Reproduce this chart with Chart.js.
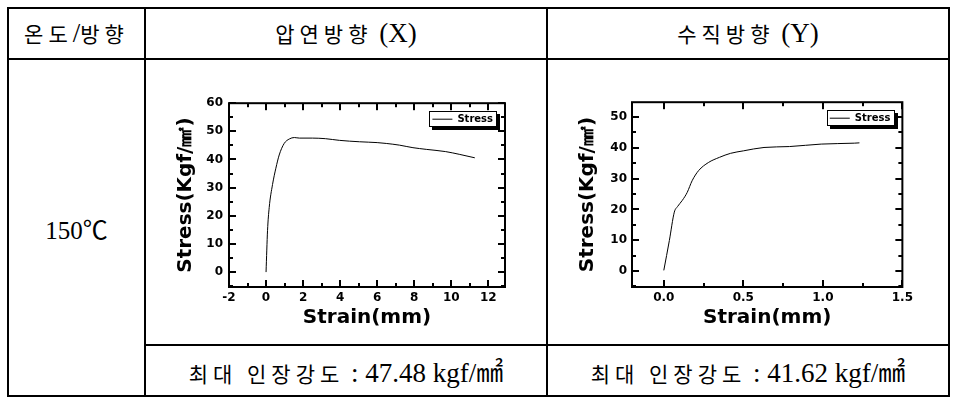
<!DOCTYPE html>
<html>
<head>
<meta charset="utf-8">
<script src="https://cdn.jsdelivr.net/npm/chart.js@4.4.0/dist/chart.umd.min.js"></script>
<style>
    html, body { margin: 0; padding: 0; background: #fff; }
    #page { position: relative; width: 978px; height: 401px; overflow: hidden;
            font-family: 'Liberation Serif', 'Noto Sans CJK KR', serif; color: #000; }
    .h { position: absolute; background: #000; height: 2px; }
    .v { position: absolute; background: #000; width: 2px; }
    .cell { position: absolute; display: flex; align-items: center; justify-content: center;
            font-size: 27px; white-space: pre; }
    .k { font-family: 'Noto Sans CJK KR', sans-serif; font-size: 21px; letter-spacing: 5px; }
    .plot { position: absolute; width: 355px; height: 245px; }
</style>
</head>
<body>
<div id="page">
    <div class="h" style="left:7px; top:7px;   width:943px;"></div>
    <div class="h" style="left:7px; top:58px;  width:943px;"></div>
    <div class="h" style="left:145px; top:344px; width:805px;"></div>
    <div class="h" style="left:7px; top:395px; width:943px;"></div>
    <div class="v" style="left:7px;   top:7px; height:390px;"></div>
    <div class="v" style="left:144px; top:7px; height:390px;"></div>
    <div class="v" style="left:546px; top:7px; height:390px;"></div>
    <div class="v" style="left:948px; top:7px; height:390px;"></div>

    <div class="cell" style="left:9px;   top:9px; width:135px; height:49px;"><span><span class="k">온도</span>/<span class="k">방향</span></span></div>
    <div class="cell" style="left:146px; top:9px; width:400px; height:49px;"><span><span class="k">압연방향</span> (X)</span></div>
    <div class="cell" style="left:548px; top:9px; width:400px; height:49px;"><span><span class="k">수직방향</span> (Y)</span></div>
    <div class="cell" style="left:9px;   top:60px; width:135px; height:335px; font-size:25px;"><span>150℃</span></div>
    <div class="cell" style="left:146px; top:346px; width:400px; height:49px;"><span><span class="k">최대 인장강도</span> : 47.48 kgf/㎟</span></div>
    <div class="cell" style="left:548px; top:346px; width:400px; height:49px;"><span><span class="k">최대 인장강도</span> : 41.62 kgf/㎟</span></div>

    <div class="plot" style="left:160px; top:90px;"><canvas id="chartX"></canvas></div>
    <div class="plot" style="left:562px; top:90px;"><canvas id="chartY"></canvas></div>
</div>

<script>
// ── 압연방향 (X)
const strainX = [0, 0.08, 0.17, 0.35, 0.53, 0.71, 0.98, 1.26, 1.53, 1.8, 2.5, 3.2, 3.96, 5.04, 6.0, 6.49, 7.2, 7.93, 8.65, 9.7, 10.46, 11.27];
const stressX = [0, 14.7, 22.9, 31.1, 36.9, 41.6, 45.7, 47.3, 47.8, 47.6, 47.6, 47.4, 46.8, 46.3, 46.0, 45.7, 45.1, 44.2, 43.6, 42.8, 41.8, 40.6];
const xTicksX = [-2, 0, 2, 4, 6, 8, 10, 12];
const yTicksX = [0, 10, 20, 30, 40, 50, 60];

// ── 수직방향 (Y)
const strainY = [0, 0.035, 0.066, 0.086, 0.116, 0.147, 0.178, 0.219, 0.28, 0.35, 0.42, 0.5, 0.63, 0.79, 0.99, 1.198, 1.23];
const stressY = [0.2, 9.9, 19.1, 20.9, 22.9, 25.5, 29.3, 32.6, 35.2, 36.9, 38.2, 39.0, 40.1, 40.4, 41.2, 41.5, 41.6];
const xTicksY = [0, 0.5, 1.0, 1.5];
const yTicksY = [0, 10, 20, 30, 40, 50];

const SERIES_LABEL = 'Stress';
const X_TITLE = 'Strain(mm)';
const Y_TITLE = 'Stress(Kgf/㎟)';

const TICK_FONT  = { family: 'DejaVu Sans', size: 12, weight: 'bold' };
const TITLE_FONT = { family: 'DejaVu Sans', size: 20, weight: 'bold' };
const LEGEND_PAD = 10;

// Рамка, внутренние засечки и рамка легенды
const framePlugin = {
    id: 'frame',
    afterLayout(chart) {
        // legend → top right corner of the plot area
        const lg = chart.legend;
        const hb = lg.legendHitBoxes[0];
        if (!hb) return;
        const a = chart.chartArea;
        const dx = (a.right - 12 - hb.width) - (lg.left + LEGEND_PAD);
        const dy = (a.top + 11) - (lg.top + LEGEND_PAD);
        lg.left += dx; lg.right += dx;
        lg.top += dy;  lg.bottom += dy;
    },
    afterDraw(chart) {
        const { ctx, chartArea: a, scales } = chart;
        ctx.save();
        ctx.strokeStyle = '#000';
        ctx.fillStyle = '#000';
        ctx.lineWidth = 2;
        ctx.strokeRect(a.left, a.top, a.right - a.left, a.bottom - a.top);

        // большие засечки на делениях, малые — посередине
        const marks = (scale, horiz) => {
            const vals = scale.ticks.map(t => t.value);
            if (vals.length < 2) return;
            const step = vals[1] - vals[0];
            const all = vals.map(v => [v, 7]);
            for (let i = 0; i <= vals.length; i++) {
                all.push([vals[0] + (i - 0.5) * step, 4]);
            }
            all.forEach(([v, len]) => {
                if (v < scale.min || v > scale.max) return;
                const p = Math.round(scale.getPixelForValue(v)) - 1;
                if (horiz) {
                    ctx.fillRect(p, a.bottom - len, 2, len);
                    ctx.fillRect(p, a.top, 2, len);
                } else {
                    ctx.fillRect(a.left, p, len, 2);
                    ctx.fillRect(a.right - len, p, len, 2);
                }
            });
        };
        marks(scales.x, true);
        marks(scales.y, false);

        const hb = chart.legend.legendHitBoxes[0];
        if (hb) {
            const x = Math.round(hb.left) - 3, y = Math.round(hb.top) - 3;
            const w = Math.round(hb.width) + 6, h = Math.round(hb.height) + 5;
            ctx.lineWidth = 1;
            ctx.strokeRect(x + 0.5, y + 0.5, w, h);
            ctx.fillRect(x + 3, y + h + 1, w, 3);
            ctx.fillRect(x + w + 1, y + 3, 3, h + 1);
        }
        ctx.restore();
    }
};

function buildChart(id, xs, ys, xTicks, yTicks, range, dims) {
    const ctx = document.getElementById(id).getContext('2d');
    return new Chart(ctx, {
        type: 'line',
        data: {
            datasets: [{
                label:           SERIES_LABEL,
                data:            xs.map((x, i) => ({ x, y: ys[i] })),
                borderColor:     '#000',
                backgroundColor: '#000',
                borderWidth:     1,
                pointRadius:     0,
                pointStyle:      'line',
                cubicInterpolationMode: 'monotone'
            }]
        },
        options: {
            responsive:          true,
            maintainAspectRatio: false,
            animation:           false,
            layout: { padding: { top: dims.top, right: dims.right, left: 0, bottom: 0 } },
            plugins: {
                tooltip: { enabled: false },
                legend: {
                    position: 'chartArea',
                    align:    'start',
                    labels: {
                        color:           '#000',
                        font:            { family: 'DejaVu Sans', size: 10, weight: 'bold' },
                        usePointStyle:   true,
                        pointStyleWidth: 20,
                        boxHeight:       10,
                        padding:         LEGEND_PAD
                    }
                }
            },
            scales: {
                x: {
                    type: 'linear',
                    min:  range.xMin,
                    max:  range.xMax,
                    afterBuildTicks: (s) => { s.ticks = xTicks.map(v => ({ value: v })); },
                    afterFit: (s) => { s.height = 48; },
                    grid:   { display: false, drawTicks: false },
                    border: { display: false },
                    ticks: {
                        color: '#000', font: TICK_FONT, padding: 4, maxRotation: 0,
                        callback: (v) => v.toFixed(range.xDec)
                    },
                    title: { display: true, text: X_TITLE, color: '#000', font: TITLE_FONT,
                             padding: { top: 0, bottom: 5 } }
                },
                y: {
                    min: range.yMin,
                    max: range.yMax,
                    afterBuildTicks: (s) => { s.ticks = yTicks.map(v => ({ value: v })); },
                    afterFit: (s) => { s.width = dims.yWidth; },
                    grid:   { display: false, drawTicks: false },
                    border: { display: false },
                    ticks:  { color: '#000', font: TICK_FONT, padding: dims.tickPad },
                    title:  { display: true, text: Y_TITLE, color: '#000', font: TITLE_FONT,
                              padding: { top: 14, bottom: 0 } }
                }
            }
        },
        plugins: [framePlugin]
    });
}

buildChart('chartX', strainX, stressX, xTicksX, yTicksX,
    { xMin: -2, xMax: 12.9, yMin: -5.3, yMax: 60, xDec: 0 },
    { top: 10, right: 10, yWidth: 69, tickPad: 6 });

buildChart('chartY', strainY, stressY, xTicksY, yTicksY,
    { xMin: -0.2, xMax: 1.5, yMin: -5.2, yMax: 54.8, xDec: 1 },
    { top: 11, right: 9, yWidth: 70, tickPad: 5 });
</script>
</body>
</html>
